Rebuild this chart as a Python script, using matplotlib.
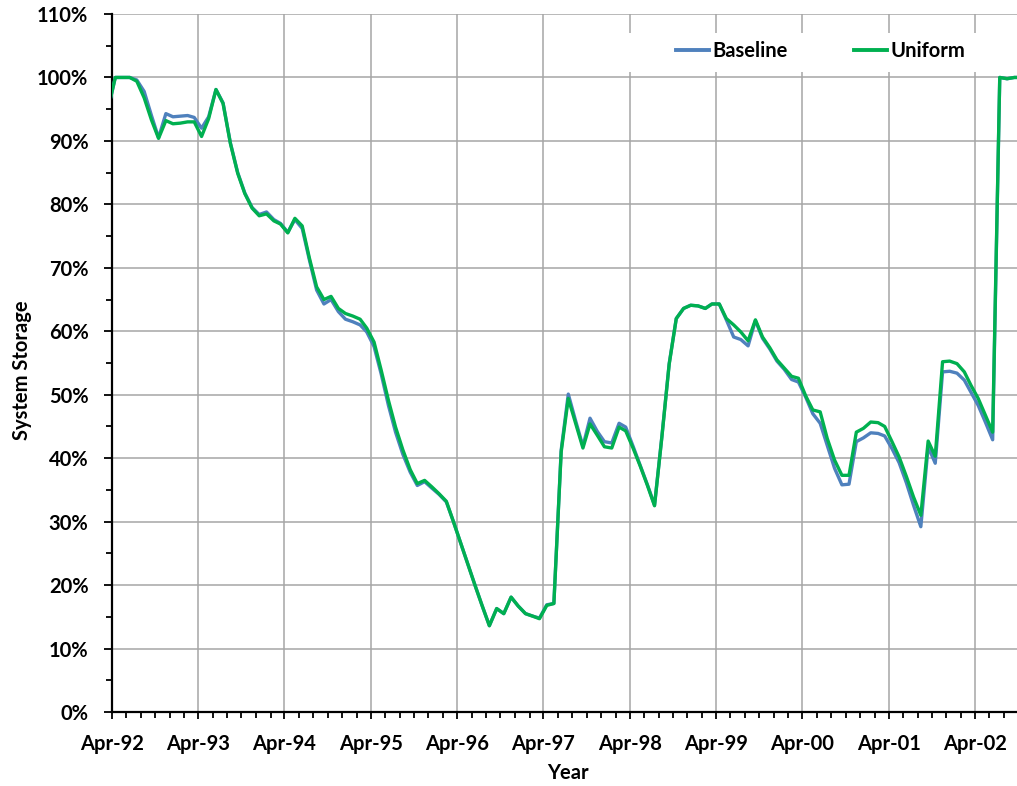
import matplotlib
matplotlib.use("Agg")
import matplotlib.pyplot as plt
import matplotlib.dates as mdates
from matplotlib.patches import Rectangle
from matplotlib.ticker import MultipleLocator, FuncFormatter
import numpy as np
import pandas as pd

plt.rcParams['font.family'] = ['Lato', 'DejaVu Sans']
plt.rcParams['font.weight'] = 'bold'

# Monthly data, Mar-1992 .. Oct-2002 (mid-month points)
months = pd.date_range('1992-03-01', '2002-10-01', freq='MS') + pd.Timedelta(days=14)

baseline = [95.0,
    100.0, 100.0, 100.0, 99.6, 97.8, 94.0, 90.5, 94.3, 93.8, 93.9, 94.0, 93.7,
    92.0, 93.8, 98.1, 96.0, 89.7, 85.0, 81.8, 79.5, 78.4, 78.8, 77.6, 77.0,
    75.6, 77.6, 76.2, 71.3, 66.5, 64.3, 65.0, 63.1, 61.9, 61.5, 61.0, 59.9,
    57.6, 53.3, 48.3, 44.1, 40.6, 37.8, 35.7, 36.3, 35.3, 34.3, 33.1, 30.1,
    26.7, 23.4, 20.0, 16.8, 13.6, 16.3, 15.5, 18.1, 16.7, 15.5, 15.1, 14.8,
    16.9, 17.1, 41.3, 50.1, 45.9, 41.9, 46.3, 44.2, 42.6, 42.4, 45.5, 44.9,
    41.9, 38.9, 35.8, 32.6, 43.4, 54.9, 62.0, 63.6, 64.1, 64.0, 63.6, 64.3,
    64.3, 61.8, 59.1, 58.7, 57.7, 61.7, 58.9, 57.2, 55.3, 54.0, 52.4, 52.0,
    49.6, 47.0, 45.5, 42.0, 38.4, 35.8, 35.9, 42.6, 43.2, 44.0, 43.9, 43.5,
    41.5, 39.3, 36.1, 32.6, 29.2, 41.8, 39.2, 53.6, 53.7, 53.4, 52.3, 50.4,
    48.3, 45.7, 42.9, 100.0, 99.8, 100.0, 100.0]

uniform = [95.0,
    100.0, 100.0, 100.0, 99.4, 96.8, 93.3, 90.4, 93.2, 92.7, 92.8, 93.0, 93.0,
    90.7, 93.5, 98.1, 95.9, 89.6, 84.9, 81.7, 79.4, 78.2, 78.5, 77.4, 76.9,
    75.5, 77.8, 76.6, 71.6, 67.0, 65.0, 65.5, 63.6, 62.8, 62.4, 61.9, 60.5,
    58.3, 53.9, 49.1, 44.9, 41.3, 38.2, 36.0, 36.5, 35.5, 34.4, 33.2, 30.1,
    26.7, 23.4, 20.0, 16.8, 13.6, 16.3, 15.5, 18.1, 16.7, 15.5, 15.1, 14.7,
    16.8, 17.1, 41.0, 49.4, 45.5, 41.6, 45.4, 43.6, 41.8, 41.6, 44.9, 44.3,
    41.6, 38.8, 35.7, 32.5, 43.3, 54.8, 62.0, 63.6, 64.1, 64.0, 63.6, 64.3,
    64.3, 62.0, 61.0, 59.9, 58.5, 61.8, 59.1, 57.4, 55.5, 54.2, 52.9, 52.6,
    49.8, 47.6, 47.3, 43.1, 39.7, 37.3, 37.3, 44.1, 44.7, 45.7, 45.6, 45.0,
    42.6, 40.2, 37.1, 33.9, 31.0, 42.7, 40.3, 55.2, 55.3, 54.9, 53.6, 51.5,
    49.4, 46.8, 44.1, 100.0, 99.8, 100.0, 100.0]

series_names = ['Baseline', 'Uniform']
series_colors = ['#4F81BD', '#00B050']

FS = 14.5

fig = plt.figure(figsize=(10.17, 7.86), dpi=100)
ax = fig.add_axes([112/1017, 74/786, 905/1017, 698/786])

ax.plot(months, baseline, color=series_colors[0], lw=2.4, label=series_names[0], zorder=3,
        solid_joinstyle='round')
ax.plot(months, uniform, color=series_colors[1], lw=2.4, label=series_names[1], zorder=4,
        solid_joinstyle='round')

ax.set_xlim(pd.Timestamp('1992-04-01'), pd.Timestamp('2002-09-26'))
ax.set_ylim(0, 110)

ax.xaxis.set_major_locator(mdates.MonthLocator(bymonth=[4]))
ax.xaxis.set_major_formatter(mdates.DateFormatter('%b-%y'))
ax.xaxis.set_minor_locator(mdates.MonthLocator(bymonth=[2, 6, 8, 10, 12]))
ax.yaxis.set_major_locator(MultipleLocator(10))
ax.yaxis.set_minor_locator(MultipleLocator(5))
ax.yaxis.set_major_formatter(FuncFormatter(lambda v, p: f'{v:.0f}%'))

ax.grid(True, which='major', color='#A6A6A6', lw=1.1, zorder=0)
ax.set_axisbelow(True)

for s in ['top', 'right']:
    ax.spines[s].set_visible(False)
for s in ['left', 'bottom']:
    ax.spines[s].set_linewidth(1.6)
    ax.spines[s].set_color('black')

ax.tick_params(axis='y', which='major', direction='out', length=6, width=1.3, pad=11, labelsize=FS)
ax.tick_params(axis='y', which='minor', direction='out', length=4, width=1.3)
ax.tick_params(axis='x', which='major', direction='out', length=5, width=1.3, pad=11, labelsize=FS)
ax.tick_params(axis='x', which='minor', direction='out', length=4, width=1.3)
for lbl in ax.get_xticklabels() + ax.get_yticklabels():
    lbl.set_fontweight('bold')

ax.set_xlabel('Year', fontsize=FS, fontweight='bold', va='center')
ax.xaxis.set_label_coords((568 - 112) / 905, (712 - 773) / 698)
ax.set_ylabel('System Storage', fontsize=FS, fontweight='bold', va='center')
ax.yaxis.set_label_coords((22 - 112) / 905, (712 - 370) / 698)

# white legend backdrop
ax.add_patch(Rectangle((0.567, 0.917), 0.425, 0.056, transform=ax.transAxes,
                       facecolor='white', edgecolor='none', zorder=2))
leg = ax.legend(loc='center left', bbox_to_anchor=(0.623, 0.947), ncol=2, frameon=False,
                borderpad=0, borderaxespad=0, handlelength=1.65, handletextpad=0.15,
                columnspacing=3.3, prop={'size': FS, 'weight': 'bold'})
for h in leg.get_lines():
    h.set_linewidth(2.8)
leg.set_zorder(5)

fig.savefig('out.png', dpi=100)
